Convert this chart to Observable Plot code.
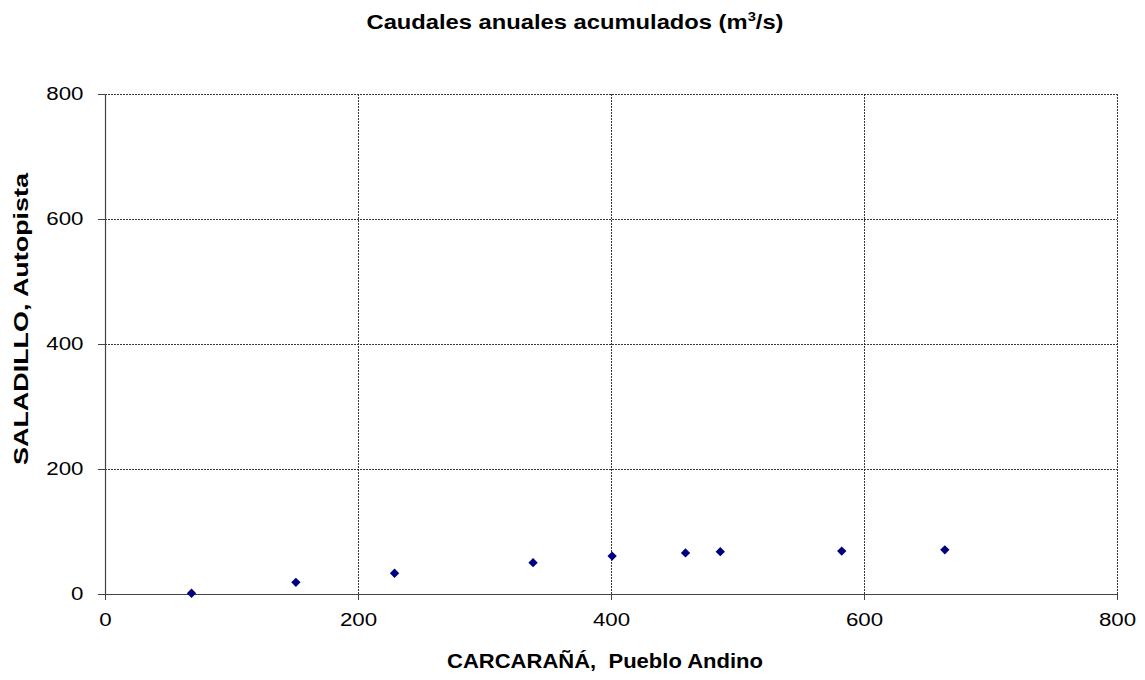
<!DOCTYPE html>
<html>
<head>
<meta charset="utf-8">
<script src="https://cdn.jsdelivr.net/npm/d3@7"></script>
<script src="https://cdn.jsdelivr.net/npm/@observablehq/plot@0.6"></script>
<style>
  body { margin: 0; background: #fff; font-family: "Liberation Sans", Arial, sans-serif; }
  #title { height: 40px; position: relative; }
  #title span { position: absolute; left: 575px; top: 10px; transform: translateX(-50%) scaleX(1.13); white-space: nowrap; font-weight: bold; font-size: 21px; line-height: 24px; color: #000; }
  #title sup { font-size: 13px; line-height: 0; }
</style>
</head>
<body>
<div id="title"><span>Caudales anuales acumulados (m<sup>3</sup>/s)</span></div>
<div id="chart"></div>
<script>
const carcarana = [68, 150.5, 228.5, 338, 400.5, 458.5, 486, 582, 663.5];
const saladillo = [2, 19.5, 34, 51, 61.5, 66.5, 68.5, 69.5, 71.5];
const xTicks = [0, 200, 400, 600, 800];
const yTicks = [0, 200, 400, 600, 800];
const xLabel = "CARCARAÑÁ,  Pueblo Andino";
const yLabel = "SALADILLO, Autopista";

const data = carcarana.map((x, i) => ({x, y: saladillo[i]}));

const chart = Plot.plot({
  width: 1145,
  height: 640,
  marginTop: 54,
  marginBottom: 86,
  marginLeft: 105,
  marginRight: 28,
  style: {fontFamily: "Liberation Sans, Arial, sans-serif", fontSize: "18px", color: "#000", background: "#fff"},
  x: {domain: [0, 800]},
  y: {domain: [0, 800]},
  marks: [
    Plot.gridX(xTicks.filter(d => d > 0), {stroke: "#222", strokeOpacity: 0.9, strokeWidth: 1, strokeDasharray: "2,1"}),
    Plot.gridY(yTicks.filter(d => d > 0), {stroke: "#222", strokeOpacity: 0.9, strokeWidth: 1, strokeDasharray: "2,1"}),
    Plot.ruleX([0], {stroke: "#444", strokeWidth: 1.2}),
    Plot.ruleY([0], {stroke: "#444", strokeWidth: 1.2}),
    Plot.axisX(xTicks, {tickSize: 6, tickPadding: 13, stroke: "#444", label: null, fontSize: 18}),
    Plot.axisY(yTicks, {tickSize: 7, tickPadding: 15, stroke: "#444", label: null, fontSize: 18}),
    Plot.dot(data, {x: "x", y: "y", symbol: "diamond2", r: 4.2, fill: "#000080", stroke: "none"})
  ]
});

const svg = d3.select(chart);
// widen tick labels to match the reference's proportions
svg.selectAll("g[aria-label='x-axis tick label'] text, g[aria-label='y-axis tick label'] text")
  .each(function() {
    const t = d3.select(this);
    const s = t.text();
    t.attr("textLength", s.length * 12.4).attr("lengthAdjust", "spacingAndGlyphs");
  });

svg.append("text")
  .attr("x", 605)
  .attr("y", 668 - 40)
  .attr("text-anchor", "middle")
  .attr("font-weight", "bold")
  .attr("font-size", 20)
  .attr("fill", "#000")
  .attr("textLength", 316)
  .attr("lengthAdjust", "spacingAndGlyphs")
  .style("white-space", "pre")
  .text(xLabel);
svg.append("text")
  .attr("transform", `translate(28, ${319 - 40}) rotate(-90)`)
  .attr("text-anchor", "middle")
  .attr("font-weight", "bold")
  .attr("font-size", 20)
  .attr("fill", "#000")
  .attr("textLength", 292)
  .attr("lengthAdjust", "spacingAndGlyphs")
  .text(yLabel);

document.getElementById("chart").appendChild(chart);
</script>
</body>
</html>
